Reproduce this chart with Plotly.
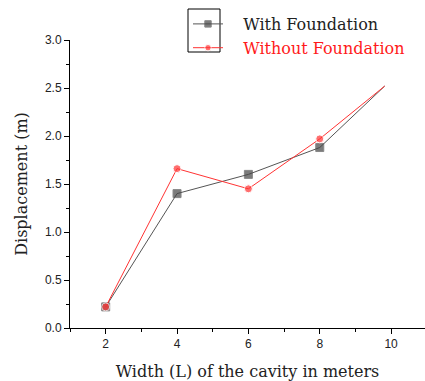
import plotly.graph_objects as go

# Cavity width (m) and displacement (m) for the two cases
width_m = [2, 4, 6, 8, 9.82]
with_foundation = [0.22, 1.40, 1.60, 1.88, 2.52]
without_foundation = [0.22, 1.66, 1.45, 1.97, 2.52]
series_names = ["With Foundation", "Without Foundation"]
x_ticks = [2, 4, 6, 8, 10]
y_ticks = [0.0, 0.5, 1.0, 1.5, 2.0, 2.5, 3.0]

W, H = 425, 381
ML, MR, MT, MB = 70, 0, 40, 53

fig = go.Figure()

# markers on the measured widths only; the last segment has no marker
marker_sizes = [8, 8, 8, 8, 0]
pad = "\u00a0\u00a0\u00a0"

fig.add_trace(go.Scatter(
    x=width_m, y=with_foundation, name=pad + series_names[0],
    mode="lines+markers",
    line=dict(color="#555555", width=1),
    marker=dict(symbol="square", size=marker_sizes, color="#444444"),
))
fig.add_trace(go.Scatter(
    x=width_m, y=without_foundation,
    name=pad + "<span style='color:#ff1a1a'>" + series_names[1] + "</span>",
    mode="lines+markers",
    line=dict(color="#ff3333", width=1),
    marker=dict(symbol="circle", size=marker_sizes, color="#ff3333"),
))

axis_font = dict(family="Liberation Sans, Arial", size=12, color="#222222")
title_font = dict(family="DejaVu Serif", size=16, color="#222222")

fig.update_layout(
    width=W, height=H,
    margin=dict(l=ML, r=MR, t=MT, b=MB),
    paper_bgcolor="white", plot_bgcolor="white",
    showlegend=True,
    legend=dict(
        x=(188 - ML) / (W - ML - MR), y=1 + (MT - 7) / (H - MT - MB),
        xanchor="left", yanchor="top",
        bgcolor="rgba(0,0,0,0)", borderwidth=0,
        font=dict(family="DejaVu Serif", size=16, color="#222222"),
        tracegroupgap=0,
    ),
    xaxis=dict(
        range=[1, 10.95], tickvals=x_ticks, ticktext=[str(v) for v in x_ticks],
        showgrid=False, zeroline=False, showline=True, linecolor="black", linewidth=1,
        ticks="outside", ticklen=5, tickcolor="black",
        minor=dict(tickvals=[1, 3, 5, 7, 9], ticks="outside", ticklen=3, tickcolor="black"),
        tickfont=axis_font,
        title=dict(text="Width (L) of the cavity in meters", font=title_font, standoff=16),
    ),
    yaxis=dict(
        range=[0, 3], tickvals=y_ticks, ticktext=[f"{v:.1f}" for v in y_ticks],
        showgrid=False, zeroline=False, showline=True, linecolor="black", linewidth=1,
        ticks="outside", ticklen=5, tickcolor="black",
        minor=dict(tickvals=[0.25, 0.75, 1.25, 1.75, 2.25, 2.75], ticks="outside", ticklen=3, tickcolor="black"),
        tickfont=axis_font,
        title=dict(text="Displacement (m)", font=title_font, standoff=13),
    ),
)

# frame drawn around the legend symbols
fig.add_shape(
    type="rect", xref="paper", yref="paper",
    x0=(188 - ML) / (W - ML - MR), x1=(220 - ML) / (W - ML - MR),
    y0=1 + (MT - 52) / (H - MT - MB), y1=1 + (MT - 9) / (H - MT - MB),
    line=dict(color="black", width=1), fillcolor="rgba(0,0,0,0)",
)

fig.write_html("out.html")
